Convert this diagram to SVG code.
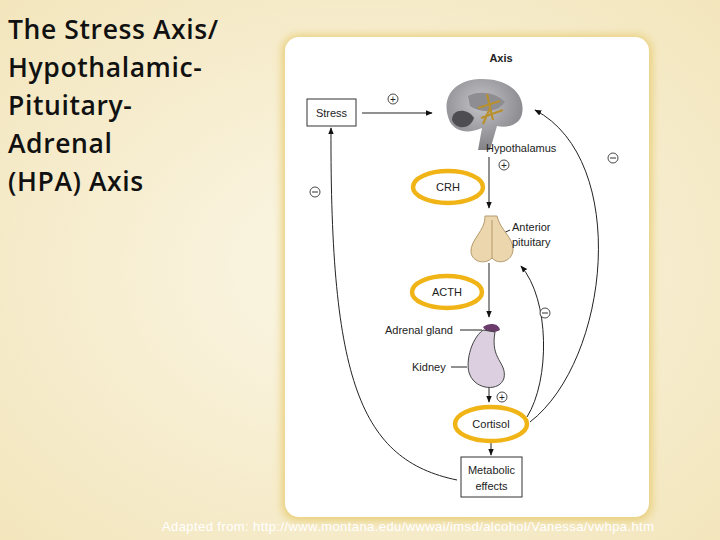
<svg xmlns="http://www.w3.org/2000/svg" width="720" height="540" viewBox="0 0 720 540">
<defs>
<marker id="ah" viewBox="0 0 10 10" refX="9" refY="5" markerWidth="7" markerHeight="7" orient="auto"><path d="M0,1 L10,5 L0,9 z" fill="#111"/></marker>
<filter id="glow" x="-10%" y="-10%" width="120%" height="120%"><feGaussianBlur stdDeviation="4"/></filter>
<radialGradient id="bg" cx="0.5" cy="0.5" r="0.7"><stop offset="0" stop-color="#fbf6e6"/><stop offset="1" stop-color="#f3e6bd"/></radialGradient>
<radialGradient id="brain" cx="0.45" cy="0.35" r="0.7"><stop offset="0" stop-color="#c4c4c8"/><stop offset="1" stop-color="#7d7d82"/></radialGradient>
</defs>
<style>
.t{font-family:"Liberation Sans",Arial,sans-serif;font-size:11px;fill:#222}
.ttl{font-family:"Open Sans","DejaVu Sans",sans-serif;font-size:26.5px;font-weight:600;fill:#111;letter-spacing:0.6px}
.ln{fill:none;stroke:#222;stroke-width:1}
.ring{fill:#fff;stroke:#f0b416;stroke-width:4.5}
.sg{fill:#fff;stroke:#333;stroke-width:0.9}
</style>
<rect width="720" height="540" fill="url(#bg)"/>
<rect x="282" y="35" width="370" height="486" rx="16" fill="#e8cf7a" filter="url(#glow)"/>
<rect x="285" y="37" width="364" height="480" rx="14" fill="#fff"/>
<g id="title">
<text class="ttl" x="8" y="39">The Stress Axis/</text>
<text class="ttl" x="8" y="77">Hypothalamic-</text>
<text class="ttl" x="8" y="115">Pituitary-</text>
<text class="ttl" x="8" y="153">Adrenal</text>
<text class="ttl" x="8" y="191">(HPA) Axis</text>
</g>
<text class="t" x="501" y="62" text-anchor="middle" font-weight="bold">Axis</text>
<g id="connectors">
<line class="ln" x1="362" y1="113" x2="432" y2="113" marker-end="url(#ah)"/>
<line class="ln" x1="489" y1="157" x2="489" y2="208" marker-end="url(#ah)"/>
<line class="ln" x1="489" y1="263" x2="489" y2="317" marker-end="url(#ah)"/>
<line class="ln" x1="489" y1="385" x2="489" y2="402" marker-end="url(#ah)"/>
<line class="ln" x1="491" y1="442" x2="491" y2="455" marker-end="url(#ah)"/>
<path class="ln" d="M457,480 C360,460 330,380 331,128" marker-end="url(#ah)"/>
<path class="ln" d="M527,417 C550,380 550,300 521,266" marker-end="url(#ah)"/>
<path class="ln" d="M530,422 C610,360 630,160 535,110" marker-end="url(#ah)"/>
<line class="ln" x1="460" y1="330" x2="482" y2="330"/>
<line class="ln" x1="451" y1="367" x2="467" y2="367"/>
<line class="ln" x1="497" y1="236" x2="510" y2="230"/>
</g>
<g id="signs" class="t">
<circle class="sg" cx="393" cy="99" r="5"/><text x="393" y="103" text-anchor="middle" font-size="10">+</text>
<circle class="sg" cx="504" cy="165" r="5"/><text x="504" y="169" text-anchor="middle" font-size="10">+</text>
<circle class="sg" cx="502" cy="397" r="5"/><text x="502" y="401" text-anchor="middle" font-size="10">+</text>
<circle class="sg" cx="315" cy="192" r="5"/><line x1="312" y1="192" x2="318" y2="192" stroke="#333"/>
<circle class="sg" cx="613" cy="158" r="5"/><line x1="610" y1="158" x2="616" y2="158" stroke="#333"/>
<circle class="sg" cx="545" cy="313" r="5"/><line x1="542" y1="313" x2="548" y2="313" stroke="#333"/>
</g>
<g id="stress"><rect x="307" y="99" width="49" height="27" fill="#fff" stroke="#333"/><text class="t" x="331.5" y="117" text-anchor="middle">Stress</text></g>
<g id="hypothalamus">
<path d="M450,122 C440,100 452,80 480,79 C508,78 526,94 522,114 C519,126 506,128 497,126 L490,150 L478,150 L482,128 C468,134 456,132 450,122 z" fill="url(#brain)"/>
<path d="M452,120 C452,108 468,108 474,118 C470,130 456,130 452,120 z" fill="#4e4e52"/>
<path d="M468,96 C478,90 496,92 505,102 C498,112 482,114 470,106 z" fill="#8e8e92"/>
<path d="M478,108 L500,101 M487,94 L493,120 M481,118 L503,110 M490,108 L483,124" stroke="#b8902e" stroke-width="2.2"/>
<text class="t" x="486" y="152">Hypothalamus</text>
</g>
<g id="crh"><ellipse class="ring" cx="448" cy="187" rx="35" ry="16"/><text class="t" x="448" y="191" text-anchor="middle">CRH</text></g>
<g id="pituitary">
<path d="M485,216 C486,230 470,240 471,252 C472,262 485,265 492,258 C498,265 512,262 513,250 C514,238 500,230 497,216 z" fill="#ecd6ad" stroke="#b59a6d"/>
<line x1="492" y1="220" x2="492" y2="258" stroke="#b59a6d"/>
<text class="t" x="512" y="231">Anterior</text><text class="t" x="512" y="246">pituitary</text>
</g>
<g id="acth"><ellipse class="ring" cx="447" cy="292" rx="35" ry="16"/><text class="t" x="447" y="296" text-anchor="middle">ACTH</text></g>
<g id="adrenal">
<path d="M483,327 C489,322 499,323 500,330 C493,334 486,333 483,327 z" fill="#6b3b6b"/>
<path d="M483,330 C470,340 465,365 470,375 C476,390 500,392 504,378 C507,362 490,360 495,332 z" fill="#dcd0e0" stroke="#444"/>
<text class="t" x="385" y="334">Adrenal gland</text>
<text class="t" x="412" y="371">Kidney</text>
</g>
<g id="cortisol"><ellipse class="ring" cx="491" cy="424" rx="36" ry="17"/><text class="t" x="491" y="428" text-anchor="middle">Cortisol</text></g>
<g id="metabolic"><rect x="461" y="457" width="61" height="40" fill="#fff" stroke="#333"/><text class="t" x="491.5" y="474" text-anchor="middle">Metabolic</text><text class="t" x="491.5" y="490" text-anchor="middle">effects</text></g>
<text x="162" y="531" font-family="'Liberation Sans',sans-serif" font-size="13" fill="#fff" textLength="492">Adapted from:  http://www.montana.edu/wwwai/imsd/alcohol/Vanessa/vwhpa.htm</text>
</svg>
